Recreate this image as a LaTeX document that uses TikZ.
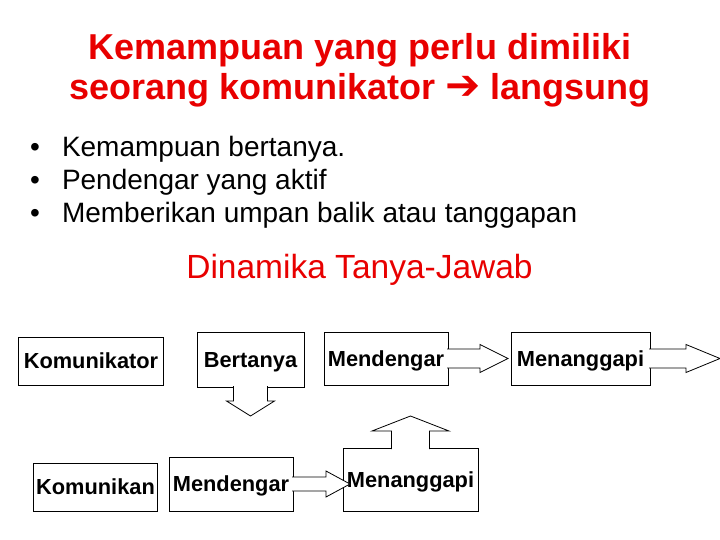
\documentclass[tikz,border=0pt]{standalone}
\usepackage{fontspec}
\setmainfont{Liberation Sans}
\newfontfamily\symbolfont{DejaVu Sans}
\definecolor{titlered}{RGB}{232,0,0}
\definecolor{linegrey}{RGB}{0,0,0}
\tikzstyle{base}=[x=1bp, y=-1bp, inner sep=0pt, outer sep=0pt]
\tikzstyle{title}=[text=titlered, font=\fontsize{36bp}{39bp}\selectfont\bfseries]
\tikzstyle{subtitle}=[text=titlered, font=\fontsize{33.5bp}{36bp}\selectfont]
\tikzstyle{item}=[font=\fontsize{28bp}{32bp}\selectfont]
\tikzstyle{box}=[draw=linegrey, line width=1bp, fill=white, text height=16bp, text depth=1bp, font=\fontsize{21.8bp}{24bp}\selectfont\bfseries]
\tikzstyle{blockarrow}=[draw=linegrey, line width=0.8bp, fill=white, line join=miter]

\begin{document}
\begin{tikzpicture}[base]
    \path [use as bounding box] (0,0) rectangle (720,540);
    % judul
    \node [title, anchor=base] (titleA) at (360,60) {Kemampuan yang perlu dimiliki};
    \node [title, anchor=base] (titleB) at (360,100) {seorang komunikator {\symbolfont\fontsize{42bp}{42bp}\selectfont ➔} langsung};
    % daftar
    \node [item, anchor=base west] (dotA) at (30,157) {•};
    \node [item, anchor=base west] (itemA) at (62,157) {Kemampuan bertanya.};
    \node [item, anchor=base west] (dotB) at (30,190) {•};
    \node [item, anchor=base west] (itemB) at (62,190) {Pendengar yang aktif};
    \node [item, anchor=base west] (dotC) at (30,223) {•};
    \node [item, anchor=base west] (itemC) at (62,223) {Memberikan umpan balik atau tanggapan};
    \node [subtitle, anchor=base] (dinamika) at (359.5,279) {Dinamika Tanya-Jawab};
    % kotak
    \node [box, minimum width=144bp, minimum height=48bp] (komunikator) at (91,361) {Komunikator};
    \node [box, minimum width=107bp, minimum height=55bp] (bertanya) at (250.5,359.5) {Bertanya};
    \node [box, minimum width=124bp, minimum height=53bp] (mendengarA) at (386,358.5) {Mendengar};
    \node [box, minimum width=139bp, minimum height=53bp] (menanggapiA) at (580.5,358.5) {Menanggapi};
    \node [box, minimum width=123bp, minimum height=48bp] (komunikan) at (95.5,487) {Komunikan};
    \node [box, minimum width=124bp, minimum height=54bp] (mendengarB) at (231,484) {Mendengar};
    % panah blok
    \filldraw [blockarrow] (bertanya.south) ++(-17,-1) -- ++(0,15) -- ++(-7,0) -- ++(24,15) -- ++(24,-15) -- ++(-7,0) -- ++(0,-15);
    \filldraw [blockarrow] (mendengarA.east) ++(-1,-9.5) -- ++(33,0) -- ++(0,-4.5) -- ++(28,14) -- ++(-28,14) -- ++(0,-4.5) -- ++(-33,0);
    \coordinate (ujung) at (720,358.5);
    \filldraw [blockarrow] (menanggapiA.east) ++(-1,-9.5) -- ++(37,0) -- ++(0,-4.5) -- (ujung) -- ++(-34,14) -- ++(0,-4.5) -- ++(-37,0);
    \node [box, minimum width=135bp, minimum height=63bp] (menanggapiB) at (410.5,479.5) {Menanggapi};
    \filldraw [blockarrow] (mendengarB.east) ++(-1,-7) -- ++(34,0) -- ++(0,-6) -- ++(24,13) -- ++(-24,13) -- ++(0,-6) -- ++(-34,0);
    \filldraw [blockarrow] (menanggapiB.north) ++(-19,1) -- ++(0,-18) -- ++(-19.5,0) -- ++(38.5,-15) -- ++(38.5,15) -- ++(-19.5,0) -- ++(0,18);
\end{tikzpicture}
\end{document}
